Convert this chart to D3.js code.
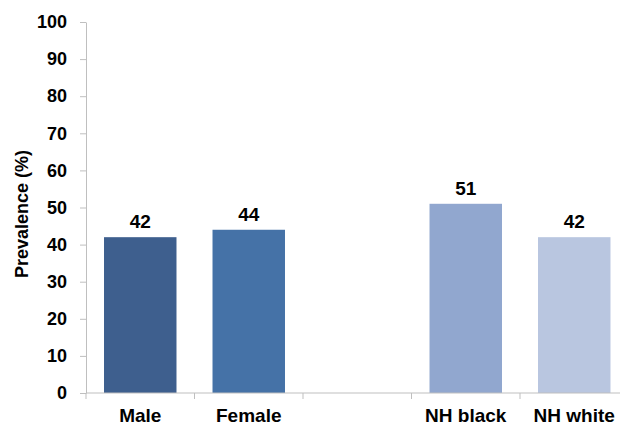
<!DOCTYPE html>
<html>
<head>
<meta charset="utf-8">
<script src="https://cdn.jsdelivr.net/npm/d3@7/dist/d3.min.js"></script>
<style>
  html, body { margin: 0; padding: 0; background: #fff; }
  svg { display: block; }
  text { font-family: "Liberation Sans", Arial, sans-serif; font-weight: bold; fill: #000; }
</style>
</head>
<body>
<svg id="chart" width="620" height="435"></svg>
<script>
const categories = ["Male", "Female", "", "NH black", "NH white"];
const values = [42, 44, null, 51, 42];
const colors = ["#3e5f8e", "#4572a7", null, "#91a7cf", "#b9c6e0"];
const yTicks = [0, 10, 20, 30, 40, 50, 60, 70, 80, 90, 100];
const yTitle = "Prevalence (%)";

const svg = d3.select("#chart");
const axisColor = "#bfbfbf";

const x = d3.scaleBand()
  .domain(d3.range(categories.length))
  .range([86, 628.5])
  .paddingInner(0.332)
  .paddingOuter(0.166);
const step = x.step();
const x0 = 86;

const y = d3.scaleLinear().domain([0, 100]).range([393, 22]);

// Y axis
const yAxis = svg.append("g")
  .attr("transform", `translate(${x0},0)`)
  .call(d3.axisLeft(y).tickValues(yTicks).tickSize(6).tickPadding(13).tickSizeOuter(0));
yAxis.select(".domain").attr("stroke", axisColor);
yAxis.selectAll(".tick line").attr("stroke", axisColor);
yAxis.selectAll(".tick text")
  .attr("font-size", 18)
  .attr("font-family", "Liberation Sans, Arial, sans-serif")
  .attr("font-weight", "bold")
  .attr("fill", "#000");

// Bars
const bars = categories.map((c, i) => ({ i, c, v: values[i], col: colors[i] })).filter(d => d.v != null);
svg.append("g").selectAll("rect").data(bars).join("rect")
  .attr("x", d => x(d.i))
  .attr("width", x.bandwidth())
  .attr("y", d => y(d.v))
  .attr("height", d => y(0) - y(d.v))
  .attr("fill", d => d.col);

// Value labels
svg.append("g").selectAll("text").data(bars).join("text")
  .attr("x", d => x(d.i) + x.bandwidth() / 2)
  .attr("y", d => y(d.v) - 9)
  .attr("text-anchor", "middle")
  .attr("font-size", 19)
  .text(d => d.v);

// X axis line
svg.append("line")
  .attr("x1", x0).attr("x2", 630)
  .attr("y1", y(0)).attr("y2", y(0))
  .attr("stroke", axisColor);

// X ticks at band boundaries
const bounds = d3.range(categories.length + 1).map(i => x0 + i * step);
svg.append("g").selectAll("line").data(bounds).join("line")
  .attr("x1", d => d).attr("x2", d => d)
  .attr("y1", y(0)).attr("y2", y(0) + 6)
  .attr("stroke", axisColor);

// Category labels
svg.append("g").selectAll("text").data(categories.map((c, i) => ({ c, i }))).join("text")
  .attr("x", d => x(d.i) + x.bandwidth() / 2)
  .attr("y", 422)
  .attr("text-anchor", "middle")
  .attr("font-size", 19)
  .text(d => d.c);

// Y title
svg.append("text")
  .attr("transform", "translate(28,214) rotate(-90)")
  .attr("text-anchor", "middle")
  .attr("font-size", 18)
  .text(yTitle);
</script>
</body>
</html>
